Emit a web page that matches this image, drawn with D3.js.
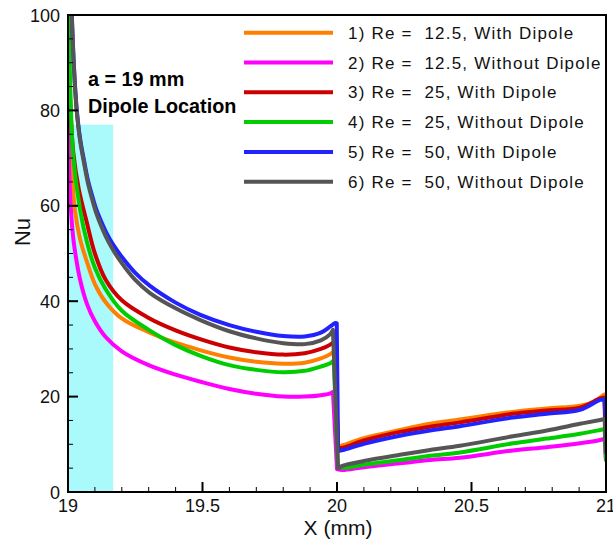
<!DOCTYPE html>
<html><head><meta charset="utf-8">
<script src="https://cdn.jsdelivr.net/npm/d3@7"></script>
<style>
html,body{margin:0;padding:0;background:#fff;}
svg{display:block;}
text{font-family:"Liberation Sans",Arial,sans-serif;}
</style></head>
<body>
<script>
// ---- data ----
const xTicks = [19, 19.5, 20, 20.5, 21];
const yTicks = [0, 20, 40, 60, 80, 100];
const seriesNames = [
  "1) Re =  12.5, With Dipole",
  "2) Re =  12.5, Without Dipole",
  "3) Re =  25, With Dipole",
  "4) Re =  25, Without Dipole",
  "5) Re =  50, With Dipole",
  "6) Re =  50, Without Dipole"
];
const seriesColors = ["#ff8000", "#ff00ff", "#cc0000", "#00cc00", "#2222ff", "#555555"];
const dipoleRegion = [19, 19.168];
const dipoleTop = 77;

const s1 = [[19.003,82],[19.011,70],[19.026,59],[19.045,53],[19.069,48.5],[19.1,43.6],[19.14,39.8],[19.2,36.4],[19.3,33.5],[19.4,31.3],[19.5,29.6],[19.6,28.2],[19.7,27.3],[19.8,26.9],[19.88,27.1],[19.94,28],[19.975,28.9],[19.99,29.6],
  [20.004,9.5],[20.022,9.8],[20.1,11.3],[20.234,13.0],[20.346,14.3],[20.457,15.2],[20.55,16.0],[20.654,16.8],[20.78,17.5],[20.903,18.1],[20.95,18.8],[20.978,19.8],[20.993,20.4],[21.0,9]];
const s2 = [[19.0005,78],[19.004,68],[19.01,60],[19.02,53],[19.033,48],[19.045,44.5],[19.07,39.5],[19.1,35.8],[19.14,32.5],[19.2,29.5],[19.3,26.6],[19.4,24.6],[19.5,23.0],[19.6,21.6],[19.7,20.6],[19.8,20.0],[19.88,20.0],[19.94,20.3],[19.975,20.7],[19.985,21],
  [20.0,4.8],[20.02,4.6],[20.1,5.2],[20.234,6.0],[20.346,6.7],[20.457,7.2],[20.654,8.7],[20.78,9.4],[20.903,10.2],[20.978,10.9],[20.995,11.2],[21.0,6.4]];
const s3 = [[19.002,95],[19.008,82],[19.02,71],[19.04,63.5],[19.07,56.5],[19.1,50],[19.14,44.5],[19.2,40.2],[19.3,36.5],[19.4,33.9],[19.5,31.9],[19.6,30.3],[19.7,29.3],[19.8,28.8],[19.88,29.1],[19.94,30],[19.975,30.9],[19.99,31.6],
  [20.004,9.2],[20.022,9.3],[20.1,10.8],[20.234,12.6],[20.346,13.7],[20.457,14.6],[20.654,16.4],[20.78,17.1],[20.903,17.7],[20.978,19.6],[20.995,19.8],[21.0,9]];
const s4 = [[19.003,100],[19.01,82],[19.02,70],[19.045,59.2],[19.07,52.5],[19.1,47],[19.14,42.5],[19.2,38],[19.3,34],[19.4,30.8],[19.5,28.4],[19.6,26.6],[19.7,25.6],[19.8,25.1],[19.88,25.4],[19.94,26.3],[19.975,27],[19.988,27.6],
  [20.003,5.4],[20.02,5.1],[20.1,5.7],[20.234,6.7],[20.346,7.6],[20.457,8.3],[20.654,10.2],[20.78,11.2],[20.903,12.2],[20.978,13],[20.995,13.2],[21.0,6.5]];
const s5 = [[19.006,112],[19.0138,100.5],[19.0223,89],[19.032,80.5],[19.0446,74.2],[19.0595,69.5],[19.0743,65.3],[19.0892,62.2],[19.1041,59.4],[19.119,57.3],[19.1413,54.5],[19.1673,51.9],[19.1933,49.8],[19.2491,46],[19.3048,43.2],[19.4,39.7],[19.49,37.2],[19.6,35.0],[19.7,33.6],[19.8,32.7],[19.88,32.6],[19.94,33.4],[19.975,34.7],[19.992,35.4],[19.999,35.4],
  [20.004,8.6],[20.022,8.8],[20.1,10.1],[20.234,11.8],[20.346,12.9],[20.457,13.8],[20.654,15.6],[20.78,16.4],[20.903,17.2],[20.978,19.3],[20.995,19.4],[21.0,10]];
const s6 = [[19.006,112],[19.0138,100.1],[19.0223,88.6],[19.032,80.1],[19.0446,73.8],[19.0595,69],[19.0743,64.7],[19.0892,61.5],[19.1041,58.6],[19.119,56.4],[19.1413,53.5],[19.1673,50.8],[19.1933,48.5],[19.2491,44.5],[19.3048,41.7],[19.4,38.5],[19.49,36.1],[19.6,33.7],[19.7,32.2],[19.8,31.2],[19.88,31.0],[19.94,31.8],[19.975,33.1],[19.985,34],
  [20.004,5],[20.02,5.5],[20.1,6.5],[20.234,7.8],[20.346,8.8],[20.457,9.7],[20.654,11.7],[20.78,12.9],[20.903,14.3],[20.978,15.1],[20.995,15.3],[21.0,8]];
const seriesData = [s1, s2, s3, s4, s5, s6];

// ---- layout ----
const W = 613, H = 541;
const L = 68, R = 606, T = 15, B = 492;
const x = d3.scaleLinear().domain([19, 21]).range([L, R]);
const y = d3.scaleLinear().domain([0, 100]).range([B, T]);

const svg = d3.select("body").append("svg").attr("width", W).attr("height", H);

svg.append("defs").append("clipPath").attr("id", "clip")
  .append("rect").attr("x", L).attr("y", T).attr("width", R - L).attr("height", B - T);

// dipole shaded region
svg.append("rect")
  .attr("x", x(dipoleRegion[0])).attr("y", y(dipoleTop))
  .attr("width", x(dipoleRegion[1]) - x(dipoleRegion[0]))
  .attr("height", y(0) - y(dipoleTop))
  .attr("fill", "#aaf9fb");

// curves: smooth pieces joined by straight drops
const smooth = d3.line().x(d => x(d[0])).y(d => y(d[1])).curve(d3.curveCatmullRom.alpha(0.5));
function pathFor(s) {
  const A = s.filter(d => d[0] < 20);
  const Bs = s.filter(d => d[0] >= 20 && d[0] < 21);
  const E = s.filter(d => d[0] >= 21);
  let d = smooth(A) + smooth(Bs).replace(/^M/, "L");
  E.forEach(p => { d += "L" + x(p[0]) + "," + y(p[1]); });
  return d;
}
const g = svg.append("g").attr("clip-path", "url(#clip)");
seriesData.forEach((s, i) => {
  g.append("path").attr("d", pathFor(s))
    .attr("fill", "none").attr("stroke", seriesColors[i])
    .attr("stroke-width", 4).attr("stroke-linejoin", "round");
});

// axes
const xMinor = d3.range(19, 21.0001, 0.1);
const yMinor = d3.range(0, 100.0001, 5);
const ax = svg.append("g");
ax.selectAll(".xm").data(xMinor).join("line")
  .attr("x1", d => x(d)).attr("x2", d => x(d)).attr("y1", B).attr("y2", B - 5)
  .attr("stroke", "#000").attr("stroke-width", 1);
ax.selectAll(".ym").data(yMinor).join("line")
  .attr("y1", d => y(d)).attr("y2", d => y(d)).attr("x1", L).attr("x2", L + 5)
  .attr("stroke", "#000").attr("stroke-width", 1);
ax.selectAll(".xM").data(xTicks).join("line")
  .attr("x1", d => x(d)).attr("x2", d => x(d)).attr("y1", B).attr("y2", B - 10)
  .attr("stroke", "#000").attr("stroke-width", 2);
ax.selectAll(".yM").data(yTicks).join("line")
  .attr("y1", d => y(d)).attr("y2", d => y(d)).attr("x1", L).attr("x2", L + 10)
  .attr("stroke", "#000").attr("stroke-width", 2);
svg.append("rect").attr("x", L).attr("y", T).attr("width", R - L).attr("height", B - T)
  .attr("fill", "none").attr("stroke", "#000").attr("stroke-width", 2);

ax.selectAll(".xl").data(xTicks).join("text")
  .attr("x", d => x(d)).attr("y", 512).attr("text-anchor", "middle")
  .attr("font-size", 18).attr("fill", "#111").text(d => d);
ax.selectAll(".yl").data(yTicks).join("text")
  .attr("x", 60).attr("y", d => y(d) + 6.5).attr("text-anchor", "end")
  .attr("font-size", 18).attr("fill", "#111").text(d => d);

svg.append("text").attr("x", 338).attr("y", 535).attr("text-anchor", "middle")
  .attr("font-size", 21).attr("fill", "#111").text("X (mm)");
svg.append("text").attr("transform", "translate(30,232) rotate(-90)")
  .attr("text-anchor", "middle").attr("font-size", 22).attr("fill", "#111").text("Nu");

// annotation
svg.append("text").attr("x", 88).attr("y", 86).attr("font-family", "Lato")
  .attr("font-weight", "bold").attr("font-size", 19.8).attr("fill", "#000").text("a = 19 mm");
svg.append("text").attr("x", 88).attr("y", 113).attr("font-family", "Lato")
  .attr("font-weight", "bold").attr("font-size", 19.8).attr("fill", "#000").text("Dipole Location");

// legend
const leg = svg.append("g");
seriesNames.forEach((n, i) => {
  const ly = 32.7 + i * 29.8;
  leg.append("line").attr("x1", 244).attr("x2", 333).attr("y1", ly).attr("y2", ly)
    .attr("stroke", seriesColors[i]).attr("stroke-width", 4);
  leg.append("text").attr("x", 348).attr("y", ly + 6).attr("font-size", 17)
    .attr("letter-spacing", "1.2px")
    .attr("fill", "#111").style("white-space", "pre").text(n);
});
</script>
</body></html>
